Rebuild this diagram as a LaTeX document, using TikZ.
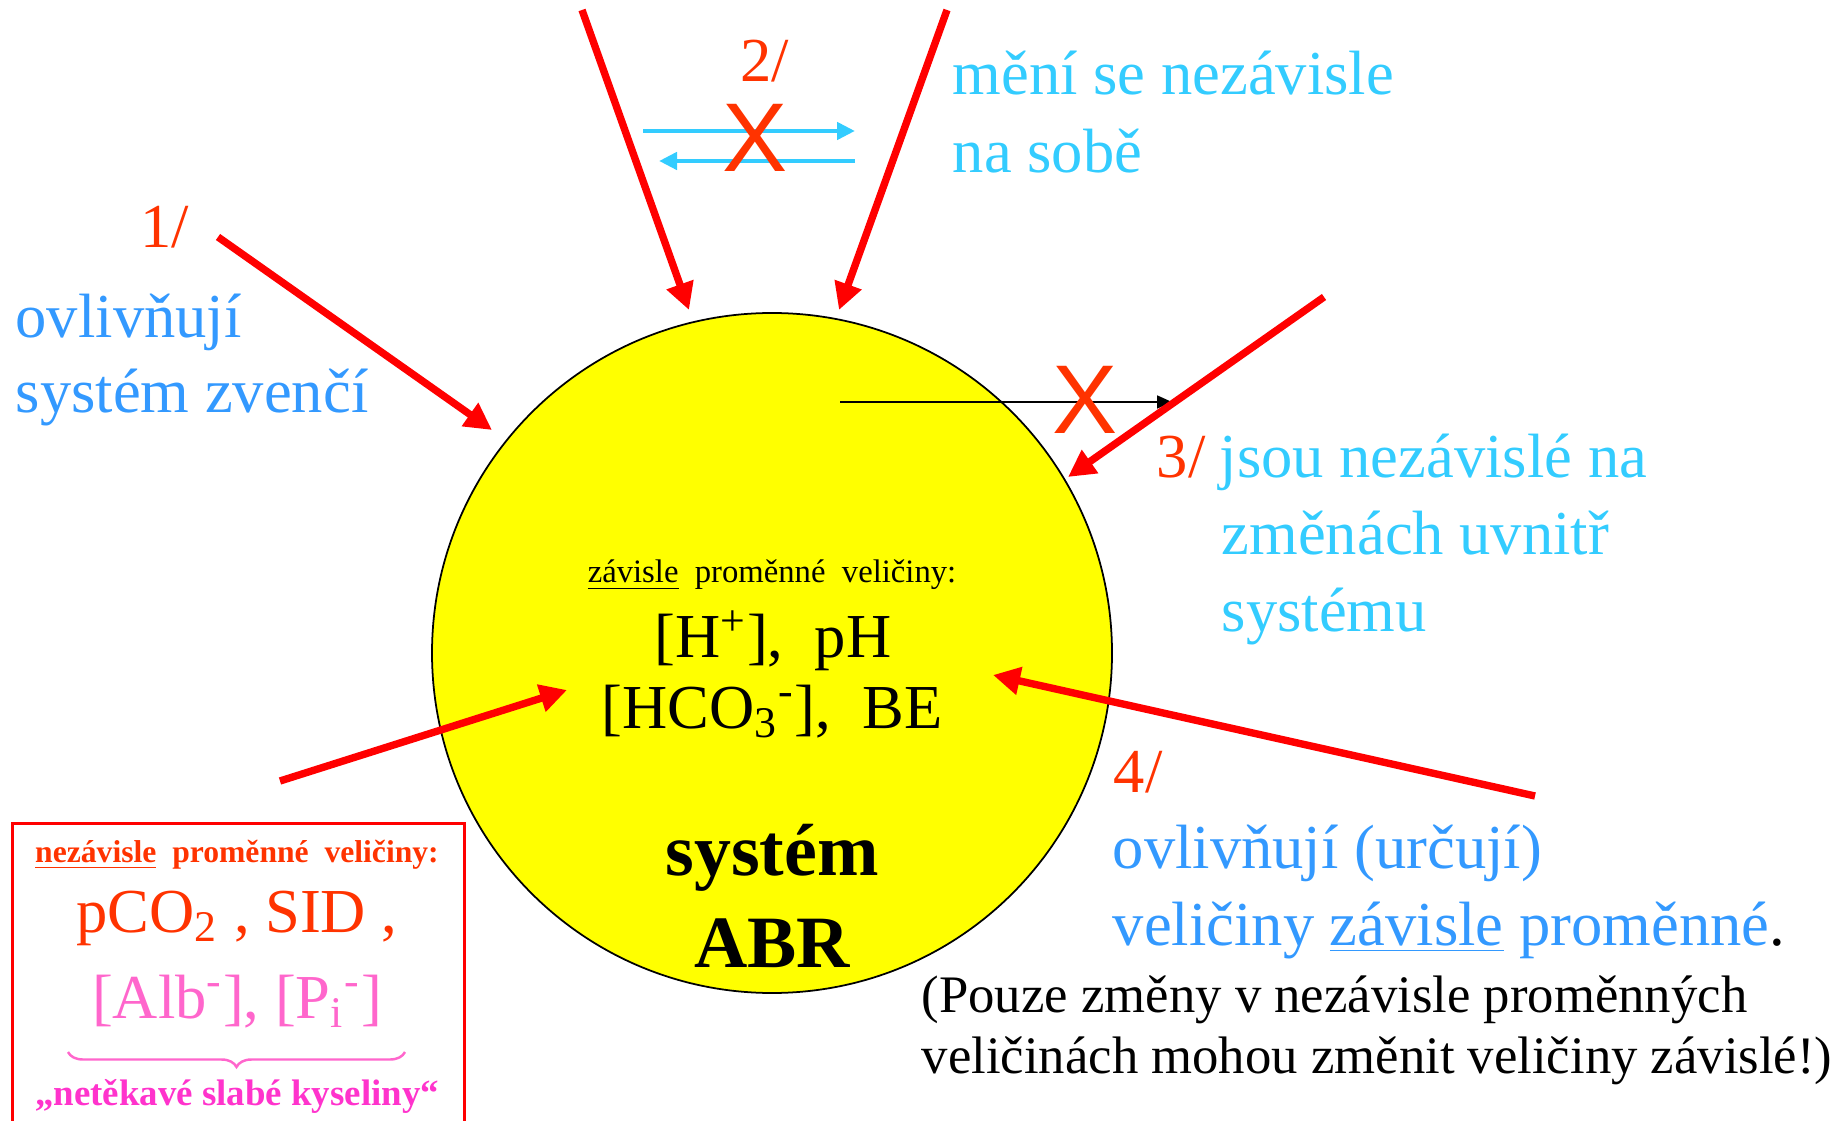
\documentclass[tikz,border=0pt]{standalone}
\usepackage{fontspec}
\setmainfont{Liberation Serif}
\newfontfamily\crossfont{Liberation Sans}
\usetikzlibrary{arrows.meta,decorations.pathreplacing}
\definecolor{arrowred}{HTML}{FF0000}
\definecolor{numred}{HTML}{FF3300}
\definecolor{textblue}{HTML}{3399FF}
\definecolor{textcyan}{HTML}{33CCFF}
\definecolor{acidpink}{HTML}{FF66CC}
\definecolor{acidmagenta}{HTML}{FF33CC}
\definecolor{sysyellow}{HTML}{FFFF00}
\tikzset{
  bigfont/.style={font=\fontsize{17.8}{21}\selectfont},
  lefttext/.style={bigfont, inner sep=0pt, anchor=base west},
  numlabel/.style={lefttext, text=numred},
  bluetext/.style={lefttext, text=textblue},
  cyantext/.style={lefttext, text=textcyan},
  notetext/.style={font=\fontsize{15}{17}\selectfont, inner sep=0pt, anchor=base west},
  midtext/.style={bigfont, inner sep=0pt, anchor=base},
  crossmark/.style={font=\crossfont\fontsize{27.8}{30}\selectfont, text=numred, inner sep=0pt},
  redarrow/.style={draw=arrowred, line width=2.1pt, -{Triangle[length=0.27cm, width=0.27cm]}},
  cyanarrow/.style={draw=textcyan, line width=1.3pt, -{Triangle[length=0.18cm, width=0.17cm]}},
}
\begin{document}
\begin{tikzpicture}[x=1cm, y=-1cm]
  \useasboundingbox (0,0) rectangle (18.37,11.21);
  \node[circle, draw, fill=sysyellow, line width=0.5pt, minimum size=6.8cm, inner sep=0pt] (sys) at (7.72,6.53) {};
  \node[draw=arrowred, line width=0.85pt, minimum width=4.52cm, minimum height=3.3cm, anchor=north west, inner sep=0pt] (indep) at (0.11,8.22) {};

  \coordinate (t1) at (2.18,2.37); \coordinate (h1) at (4.92,4.30);
  \coordinate (t2a) at (5.82,0.10); \coordinate (h2a) at (6.89,3.10);
  \coordinate (t2b) at (9.47,0.10); \coordinate (h2b) at (8.39,3.10);
  \coordinate (t3) at (13.24,2.97); \coordinate (h3) at (10.68,4.77);
  \coordinate (t4) at (15.35,7.96); \coordinate (h4) at (9.93,6.75);
  \coordinate (t5) at (2.80,7.81); \coordinate (h5) at (5.67,6.90);
  \coordinate (ca) at (6.43,1.31); \coordinate (cb) at (8.55,1.31);
  \coordinate (cc) at (8.55,1.61); \coordinate (cd) at (6.59,1.61);
  \coordinate (ba) at (8.40,4.02); \coordinate (bb) at (11.72,4.02);
  \coordinate (br1) at (4.05,10.52); \coordinate (br2) at (0.68,10.52);

  \draw[redarrow] (t1) -- (h1);
  \draw[redarrow] (t2a) -- (h2a);
  \draw[redarrow] (t2b) -- (h2b);
  \draw[redarrow] (t4) -- (h4);
  \draw[redarrow] (t5) -- (h5);
  \draw[cyanarrow] (ca) -- (cb);
  \draw[cyanarrow] (cc) -- (cd);
  \draw[line width=0.5pt, -{Triangle[length=0.15cm, width=0.13cm]}] (ba) -- (bb);
  \draw[redarrow] (t3) -- (h3);

  \node[numlabel] (n1) at (1.40,2.48) {1/};
  \node[bluetext] (l1a) at (0.15,3.38) {ovlivňují};
  \node[bluetext] (l1b) at (0.15,4.13) {systém zvenčí};
  \node[numlabel] (n2) at (7.40,0.82) {2/};
  \node[crossmark] (x2) at (7.55,1.38) {X};
  \node[cyantext] (l2a) at (9.52,0.95) {mění se nezávisle};
  \node[cyantext] (l2b) at (9.52,1.73) {na sobě};
  \node[crossmark] (x3) at (10.85,4.00) {X};
  \node[numlabel] (n3) at (11.56,4.78) {3/};
  \node[cyantext] (l3a) at (12.19,4.78) {jsou nezávislé na};
  \node[cyantext] (l3b) at (12.21,5.55) {změnách uvnitř};
  \node[cyantext] (l3c) at (12.21,6.32) {systému};
  \node[numlabel] (n4) at (11.13,7.92) {4/};
  \node[bluetext] (l4a) at (11.12,8.68) {ovlivňují (určují)};
  \node[bluetext] (l4b) at (11.12,9.45) {veličiny \underline{závisle} proměnné\textcolor{black}{.}};
  \node[notetext] (nt1) at (9.21,10.12) {(Pouze změny v nezávisle proměnných};
  \node[notetext] (nt2) at (9.21,10.73) {veličinách mohou změnit veličiny závislé!)};

  \node[font=\fontsize{9.3}{11}\selectfont, inner sep=0pt, anchor=base] (dep) at (7.72,5.83) {\underline{závisle}\ \ proměnné\ \ veličiny:};
  \node[midtext] (dep1) at (7.73,6.58) {[H\textsuperscript{+}],\ \ pH};
  \node[midtext] (dep2) at (7.72,7.28) {[HCO\textsubscript{3}\textsuperscript{-}],\ \ BE};
  \node[font=\bfseries\fontsize{21}{25}\selectfont, inner sep=0pt, anchor=base] (sysa) at (7.72,8.75) {systém};
  \node[font=\bfseries\fontsize{21}{25}\selectfont, inner sep=0pt, anchor=base] (sysb) at (7.72,9.67) {ABR};

  \node[font=\bfseries\fontsize{9}{11}\selectfont, text=numred, inner sep=0pt, anchor=base] (ih) at (2.37,8.62) {\underline{nezávisle}\ \ proměnné\ \ veličiny:};
  \node[midtext, text=numred] (iv1) at (2.37,9.32) {pCO\textsubscript{2} , SID ,};
  \node[midtext, text=acidpink] (iv2) at (2.37,10.18) {[Alb\textsuperscript{-}], [P\textsubscript{i}\textsuperscript{-}]};
  \draw[acidpink, line width=0.7pt, decorate, decoration={brace, amplitude=0.15cm}] (br1) -- (br2);
  \node[font=\bfseries\fontsize{10.5}{12}\selectfont, text=acidmagenta, inner sep=0pt, anchor=base] (acid) at (2.37,11.05) {„netěkavé slabé kyseliny“};
\end{tikzpicture}
\end{document}
